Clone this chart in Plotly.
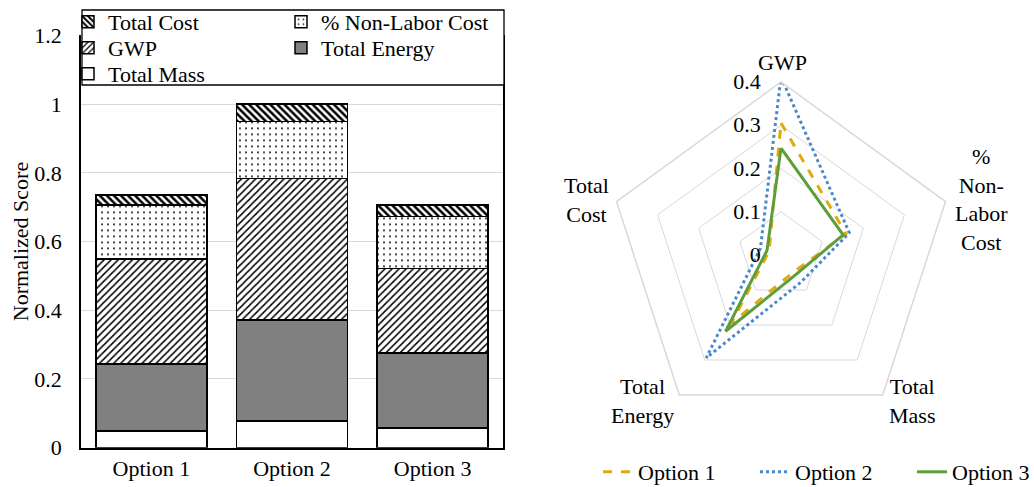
import plotly.graph_objects as go

# ---- data -------------------------------------------------------------
options = ["Option 1", "Option 2", "Option 3"]

total_mass = [0.049, 0.078, 0.057]
total_energy = [0.195, 0.294, 0.218]
gwp = [0.305, 0.412, 0.247]
non_labor_cost = [0.158, 0.166, 0.151]
total_cost = [0.029, 0.050, 0.034]

radar_metrics = ["GWP", "% Non-Labor Cost", "Total Mass", "Total Energy", "Total Cost"]
radar_labels = {
    "GWP": "GWP",
    "% Non-Labor Cost": "%<br>Non-<br>Labor<br>Cost",
    "Total Mass": "Total<br>Mass",
    "Total Energy": "Total<br>Energy",
    "Total Cost": "Total<br>Cost",
}
radial_ticks = [0, 0.1, 0.2, 0.3, 0.4]

FONT = "Liberation Serif"
FS = 22
GRID = "#d9d9d9"
W, H = 1034, 487
NBSP = "\u00a0"


def px(x):
    return x / W


def py(y):
    return 1 - y / H


fig = go.Figure()

# ---- stacked bars (bottom to top), each legend entry in its own slot ----
bar_specs = [
    ("Total Mass", total_mass, dict(color="white"), "legend5"),
    ("Total Energy", total_energy, dict(color="#808080"), "legend4"),
    ("GWP", gwp, dict(color="white", pattern=dict(shape="/", size=5, solidity=0.3,
                                                 fgcolor="black", fgopacity=1)), "legend3"),
    ("% Non-Labor Cost", non_labor_cost, dict(color="white", pattern=dict(shape=".", size=6, solidity=0.1,
                                                                         fgcolor="#222222", fgopacity=1)), "legend2"),
    ("Total Cost", total_cost, dict(color="white", pattern=dict(shape="\\", size=5, solidity=0.5,
                                                               fgcolor="black", fgopacity=1)), "legend"),
]
for name, vals, mk, lg in bar_specs:
    fig.add_trace(go.Bar(
        x=options, y=vals, name=name, legend=lg,
        marker=dict(line=dict(color="black", width=1.5), **mk),
        xaxis="x", yaxis="y",
    ))

# ---- radar lines --------------------------------------------------------
series = {
    "Option 1": ([gwp[0], non_labor_cost[0], total_mass[0], total_energy[0], total_cost[0]],
                 dict(color="#E3A90B", width=3, dash="dash")),
    "Option 2": ([gwp[1], non_labor_cost[1], total_mass[1], total_energy[1], total_cost[1]],
                 dict(color="#4A88CC", width=3, dash="dot")),
    "Option 3": ([gwp[2], non_labor_cost[2], total_mass[2], total_energy[2], total_cost[2]],
                 dict(color="#5F9C3B", width=3)),
}
for name, (vals, ln) in series.items():
    fig.add_trace(go.Scatterpolar(
        r=vals + vals[:1], theta=radar_metrics + radar_metrics[:1], name=name,
        mode="lines", line=ln, legend="legend6", subplot="polar",
    ))

# spoke labels sit beside each pentagon vertex (pixel centres)
label_pos = {
    "GWP": (782, 62),
    "% Non-Labor Cost": (981, 199),
    "Total Mass": (912, 401),
    "Total Energy": (642, 401),
    "Total Cost": (586, 200),
}
annotations = [
    dict(text=radar_labels[m], x=px(label_pos[m][0]), y=py(label_pos[m][1]),
         xref="paper", yref="paper", xanchor="center", yanchor="middle",
         align="center", showarrow=False, font=dict(size=FS))
    for m in radar_metrics
]


def box_legend(x_text, y_mid):
    return dict(x=px(x_text - 41), y=py(y_mid), xanchor="left", yanchor="middle",
                bgcolor="rgba(0,0,0,0)", borderwidth=0, font=dict(size=FS))


fig.update_layout(
    width=W, height=H,
    showlegend=True,
    margin=dict(l=0, r=0, t=0, b=0, autoexpand=False),
    paper_bgcolor="white", plot_bgcolor="white",
    font=dict(family=FONT, size=FS, color="black"),
    barmode="stack", bargap=0.21,
    xaxis=dict(domain=[px(81), px(503)], showline=True, linecolor="black", linewidth=1.5,
               ticks="", showgrid=False, tickfont=dict(size=FS), automargin=False),
    yaxis=dict(domain=[py(447.7), py(35.4)], range=[0, 1.2], dtick=0.2,
               showline=True, mirror=True, linecolor="black", linewidth=1.5,
               gridcolor=GRID, gridwidth=1.3, zeroline=False, ticks="",
               ticklabelstandoff=13, tickfont=dict(size=FS), automargin=False,
               title=dict(text="Normalized Score", font=dict(size=FS), standoff=0)),
    polar=dict(
        domain=dict(x=[px(608), px(954)], y=[py(428), py(82)]),
        gridshape="linear", bgcolor="white",
        angularaxis=dict(rotation=90, direction="clockwise", showgrid=False,
                         showline=True, linecolor=GRID, linewidth=1.5, ticks="",
                         showticklabels=False),
        radialaxis=dict(range=[0, 0.4], tickvals=radial_ticks,
                        ticktext=[f"{t:g}" + NBSP * 3 for t in radial_ticks],
                        showline=False, gridcolor=GRID, gridwidth=1.3, ticks="",
                        angle=90, side="counterclockwise", tickangle=90,
                        tickfont=dict(size=FS)),
    ),
    legend=box_legend(109, 22),
    legend2=box_legend(322, 22),
    legend3=box_legend(109, 48),
    legend4=box_legend(322, 48),
    legend5=box_legend(109, 74),
    legend6=dict(x=px(598), y=py(472), xanchor="left", yanchor="middle", orientation="h",
                 bgcolor="rgba(0,0,0,0)", font=dict(size=FS), entrywidth=112),
    annotations=annotations,
    shapes=[dict(type="rect", xref="paper", yref="paper", layer="above",
                 x0=px(82), x1=px(504), y0=py(85), y1=py(10),
                 fillcolor="white", line=dict(color="black", width=1.3))],
)

fig.write_html("out.html")
